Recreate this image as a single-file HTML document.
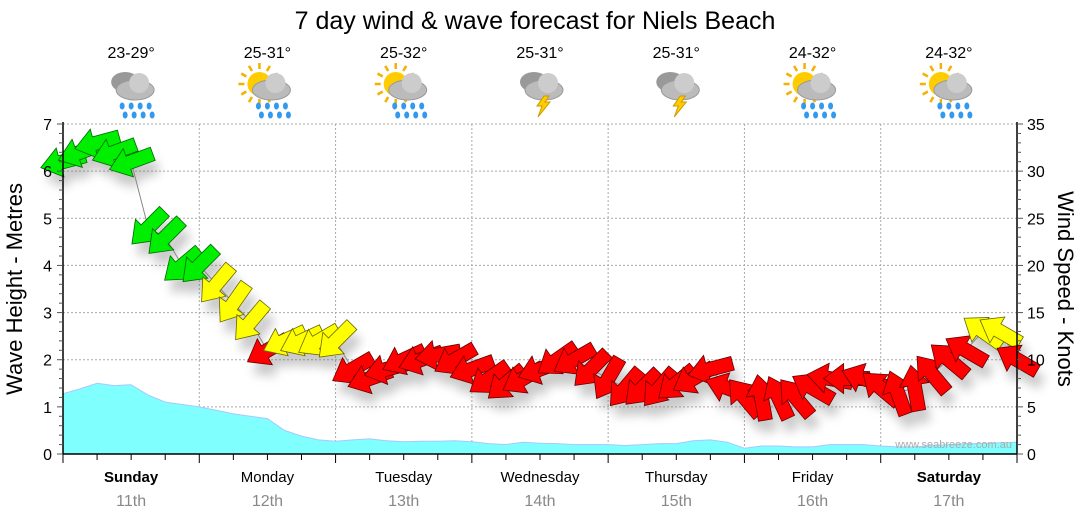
<!DOCTYPE html>
<html><head><meta charset="utf-8">
<style>
body{margin:0;background:#fff;}
svg{display:block;font-family:"Liberation Sans",sans-serif;}
</style></head>
<body>
<svg id="chart" width="1080" height="522" viewBox="0 0 1080 522">
<defs>
<filter id="sh" x="-50%" y="-50%" width="200%" height="200%"><feGaussianBlur stdDeviation="5"/></filter>
</defs>
<text x="535" y="29" text-anchor="middle" font-size="25" fill="#000">7 day wind &amp; wave forecast for Niels Beach</text>
<g id="grid"></g>
<g id="wave"></g>
<g id="wind"></g>
<g id="axes"></g>
<g id="days"></g>
<text x="1012" y="448" text-anchor="end" font-size="11" fill="#aaa">www.seabreeze.com.au</text>
<text transform="translate(22,289) rotate(-90)" text-anchor="middle" font-size="22">Wave Height - Metres</text>
<text transform="translate(1058,289) rotate(90)" text-anchor="middle" font-size="22">Wind Speed - Knots</text>
</svg>
<script>
const dayNames=["Sunday","Monday","Tuesday","Wednesday","Thursday","Friday","Saturday"];
const dayDates=["11th","12th","13th","14th","15th","16th","17th"];
const temps=["23-29°","25-31°","25-32°","25-31°","25-31°","24-32°","24-32°"];
const icons=["rain","sunrain","sunrain","storm","storm","sunrain","sunrain"];
const waveTicks=[0,1,2,3,4,5,6,7];
const windTicks=[0,5,10,15,20,25,30,35];
const waveHeights=[1.28,1.38,1.5,1.45,1.47,1.25,1.1,1.05,1.0,0.93,0.85,0.8,0.75,0.5,0.38,0.3,0.27,0.3,0.32,0.28,0.26,0.27,0.27,0.28,0.26,0.22,0.2,0.25,0.23,0.22,0.2,0.2,0.2,0.18,0.2,0.22,0.22,0.28,0.3,0.25,0.12,0.17,0.17,0.15,0.15,0.2,0.2,0.2,0.17,0.15,0.15,0.18,0.2,0.22,0.22,0.24,0.25];
const windSpeeds=[31,32,33,32,31,24,23,20,20,18,16,14,11,12,12,12,12,9,8,9,10,10,10.5,10,9,8,7.5,8,9,10,10,9,8,7,7,7,7.5,8,9,7,6,6,6,6,7,8,8,8,7,6.5,7,8.5,10,11,13,13,10];
const windDirs=[75,70,75,70,70,45,45,50,45,40,35,40,60,65,65,60,45,60,70,75,65,70,80,60,70,55,50,60,70,55,60,45,30,40,45,40,50,60,75,110,140,170,155,140,120,100,90,110,130,160,170,140,130,120,125,120,120];
const NS="http://www.w3.org/2000/svg";
const X0=63,X1=1017,Y0=454,Y1=124,N=56;
const xs=i=>X0+(X1-X0)*i/N;
const yWave=v=>Y0-(Y0-Y1)*v/7;
const yWind=v=>Y0-(Y0-Y1)*v/35;
function mk(tag,attrs,parent){const e=document.createElementNS(NS,tag);for(const k in attrs)e.setAttribute(k,attrs[k]);parent.appendChild(e);return e;}
const grid=document.getElementById('grid'),axes=document.getElementById('axes'),wave=document.getElementById('wave'),wind=document.getElementById('wind'),days=document.getElementById('days');
waveTicks.forEach(t=>{if(t>0){const l=mk('line',{x1:X0,x2:X1,y1:yWave(t),y2:yWave(t),stroke:'#aaa','stroke-dasharray':'2,2'},grid);

}});
for(let d=1;d<7;d++){const x=X0+(X1-X0)*d/7;const l=mk('line',{x1:x,x2:x,y1:Y1,y2:Y0,stroke:'#aaa','stroke-dasharray':'2,2'},grid);

}
let d='M'+X0+','+Y0;waveHeights.forEach((v,i)=>{d+=' L'+xs(i).toFixed(1)+','+yWave(v).toFixed(1);});d+=' L'+xs(N)+','+Y0+' Z';
const wa=mk('path',{d:d,fill:'#80ffff',stroke:'#a8c8ff','stroke-width':1},wave);


function col(s){return s>=19?'#00ee00':(s>=11.5?'#ffff00':'#ff0000');}
function stk(s){return s>=19?'#006600':(s>=11.5?'#666600':'#660000');}
const arrowPts="-23,-7 3,-7 3,-15 23,0 3,15 3,7 -23,7";
const sg=mk('g',{filter:'url(#sh)',opacity:0.35},wind);
windSpeeds.forEach((s,i)=>{const ang=windDirs[i]+90;
const e=mk('polygon',{points:arrowPts,fill:'#666',transform:`translate(${xs(i)+5},${yWind(s)+12}) rotate(${ang})`},sg);

});
const lp=mk('polyline',{points:windSpeeds.map((s,i)=>xs(i)+','+yWind(s)).join(' '),fill:'none',stroke:'#888','stroke-width':1},wind);


windSpeeds.forEach((s,i)=>{const ang=windDirs[i]+90;
const e=mk('polygon',{points:arrowPts,fill:col(s),stroke:stk(s),'stroke-width':0.8,transform:`translate(${xs(i)},${yWind(s)}) rotate(${ang})`},wind);

});
[X0,X1].forEach(x=>{const l=mk('line',{x1:x,x2:x,y1:Y1-2,y2:Y0,stroke:'#000','stroke-width':1.5},axes);

});
const bl=mk('line',{x1:X0,x2:X1,y1:Y0,y2:Y0,stroke:'#000','stroke-width':1.5},axes);


for(let k=0;k<=35;k++){const y=Y0-(Y0-Y1)*k/35;
const a=mk('line',{x1:X0-(k%5?4:6),x2:X0,y1:y,y2:y,stroke:'#555'},axes);
const b=mk('line',{x1:X1,x2:X1+(k%5?4:6),y1:y,y2:y,stroke:'#555'},axes);}
waveTicks.forEach(t=>{const e=mk('text',{x:X0-11,y:yWave(t)+6,'text-anchor':'end','font-size':16},axes);e.textContent=t;

});
windTicks.forEach(t=>{const e=mk('text',{x:X1+10,y:yWind(t)+6,'font-size':16},axes);e.textContent=t;

});
for(let k=0;k<=28;k++){const x=X0+(X1-X0)*k/28;const e=mk('line',{x1:x,x2:x,y1:Y0,y2:Y0+(k%4?6:9),stroke:'#000'},axes);

}
function icon(type,cx,cy,g){
 if(type==='sunrain'){mk('circle',{cx:cx-8,cy:cy-6,r:12,fill:'#ffcc00'},g);
  for(let a=0;a<12;a++){const r=a*Math.PI/6;mk('line',{x1:cx-8+Math.cos(r)*15,y1:cy-6+Math.sin(r)*15,x2:cx-8+Math.cos(r)*21,y2:cy-6+Math.sin(r)*21,stroke:'#f5b000','stroke-width':2.5},g);}}
 if(type==='rain'||type==='storm'){mk('ellipse',{cx:cx-6,cy:cy-8,rx:14,ry:10,fill:'#999'},g);}
 mk('ellipse',{cx:cx+4,cy:cy,rx:19,ry:10,fill:'#bbb',stroke:'#999'},g);
 mk('circle',{cx:cx+8,cy:cy-7,r:10,fill:'#ccc'},g);
 if(type==='storm'){mk('polygon',{points:`${cx+4},${cy+6} ${cx-3},${cy+16} ${cx+2},${cy+16} ${cx-2},${cy+27} ${cx+10},${cy+12} ${cx+5},${cy+12} ${cx+9},${cy+6}`,fill:'#ffcc00',stroke:'#c90'},g);}
 else{for(let r=0;r<2;r++)for(let c=0;c<4;c++){mk('ellipse',{cx:cx-9+c*9+r*3,cy:cy+16+r*9,rx:2.5,ry:3.5,fill:'#3399ee'},g);}}
}
for(let k=0;k<7;k++){const cx=X0+(X1-X0)*(k+0.5)/7;
 const t=mk('text',{x:cx,y:58,'text-anchor':'middle','font-size':16},days);t.textContent=temps[k];
 
 
 const g=mk('g',{},days);
 
 
 icon(icons[k],cx,90,g);
 const n=mk('text',{x:cx,y:482,'text-anchor':'middle','font-size':15,'font-weight':(k===0||k===6)?'bold':'normal'},days);n.textContent=dayNames[k];
 
 
 const dt=mk('text',{x:cx,y:506,'text-anchor':'middle','font-size':16,fill:'#888'},days);dt.textContent=dayDates[k];
 
 }
</script>
</body></html>
